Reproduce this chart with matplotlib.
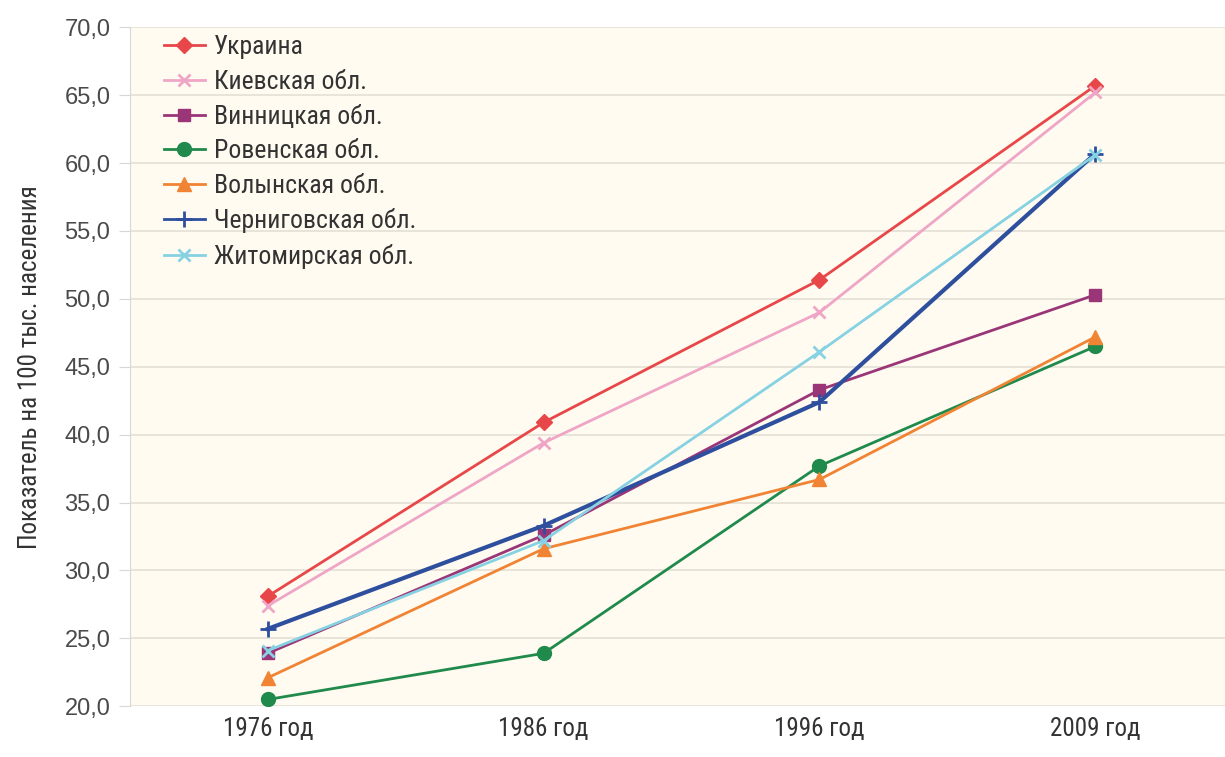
import matplotlib
matplotlib.use("Agg")
import matplotlib.pyplot as plt
from matplotlib.ticker import FuncFormatter

years = ["1976 год", "1986 год", "1996 год", "2009 год"]
ukraine = [28.1, 40.9, 51.4, 65.7]
kiev = [27.4, 39.4, 49.0, 65.2]
vinnytsia = [23.9, 32.6, 43.3, 50.3]
rivne = [20.5, 23.9, 37.7, 46.5]
volyn = [22.1, 31.6, 36.7, 47.2]
chernihiv = [25.7, 33.3, 42.4, 60.7]
zhytomyr = [24.1, 32.2, 46.1, 60.6]

series = [
    ("Украина", ukraine, "#e8474a", "D", 2.0, 8),
    ("Киевская обл.", kiev, "#efa6c6", "x", 2.0, 9),
    ("Винницкая обл.", vinnytsia, "#9a3678", "s", 2.0, 9),
    ("Ровенская обл.", rivne, "#1f8a4c", "o", 2.0, 10),
    ("Волынская обл.", volyn, "#f08434", "^", 2.0, 10),
    ("Черниговская обл.", chernihiv, "#2e4f9e", "+", 3.0, 12),
    ("Житомирская обл.", zhytomyr, "#86d2e2", "x", 2.0, 9),
]

cond = ['Roboto Condensed', 'Liberation Sans Narrow', 'Liberation Sans', 'DejaVu Sans']
plt.rcParams['font.family'] = cond

fig = plt.figure(figsize=(12.25, 7.57), dpi=100)
ax = fig.add_axes([0.106, 0.067, 0.894, 0.897])
ax.set_facecolor("#fffbf0")
fig.patch.set_facecolor("white")

x = list(range(len(years)))
for name, vals, col, mk, lw, ms in series:
    mew = 2.0 if mk in ("x", "+") else 1
    ax.plot(x, vals, color=col, lw=lw, marker=mk, markersize=ms,
            markeredgewidth=mew, label=name)

ax.set_xlim(-0.5, 3.47)
ax.set_ylim(20, 70)
ax.set_yticks(range(20, 71, 5))
ax.yaxis.set_major_formatter(FuncFormatter(lambda v, p: f"{v:.1f}".replace(".", ",")))
ax.set_xticks(x)
ax.set_xticklabels(years)
ax.grid(axis="y", color="#e4e0d6", lw=1.2)
ax.set_axisbelow(True)
for s in ["top", "right", "bottom"]:
    ax.spines[s].set_visible(False)
ax.spines["left"].set_color("#d8d8d8")
ax.tick_params(axis="y", length=8, color="#d8d8d8", labelsize=17, labelcolor="#4a4a4a", pad=6)
for t in ax.get_yticklabels():
    t.set_family(['Liberation Sans', 'DejaVu Sans'])
ax.tick_params(axis="x", length=0, labelsize=18, labelcolor="#333333", pad=8)
ax.set_ylabel("Показатель на 100 тыс. населения", fontsize=18, color="#333333", labelpad=16)

leg = ax.legend(loc="upper left", bbox_to_anchor=(0.01, 1.022), frameon=False,
                fontsize=18.5, handlelength=1.6, labelspacing=0.41, handletextpad=0.35,
                labelcolor="#333333")
for h in leg.get_lines():
    h.set_linewidth(2.0)

fig.savefig("out.png", dpi=100)
